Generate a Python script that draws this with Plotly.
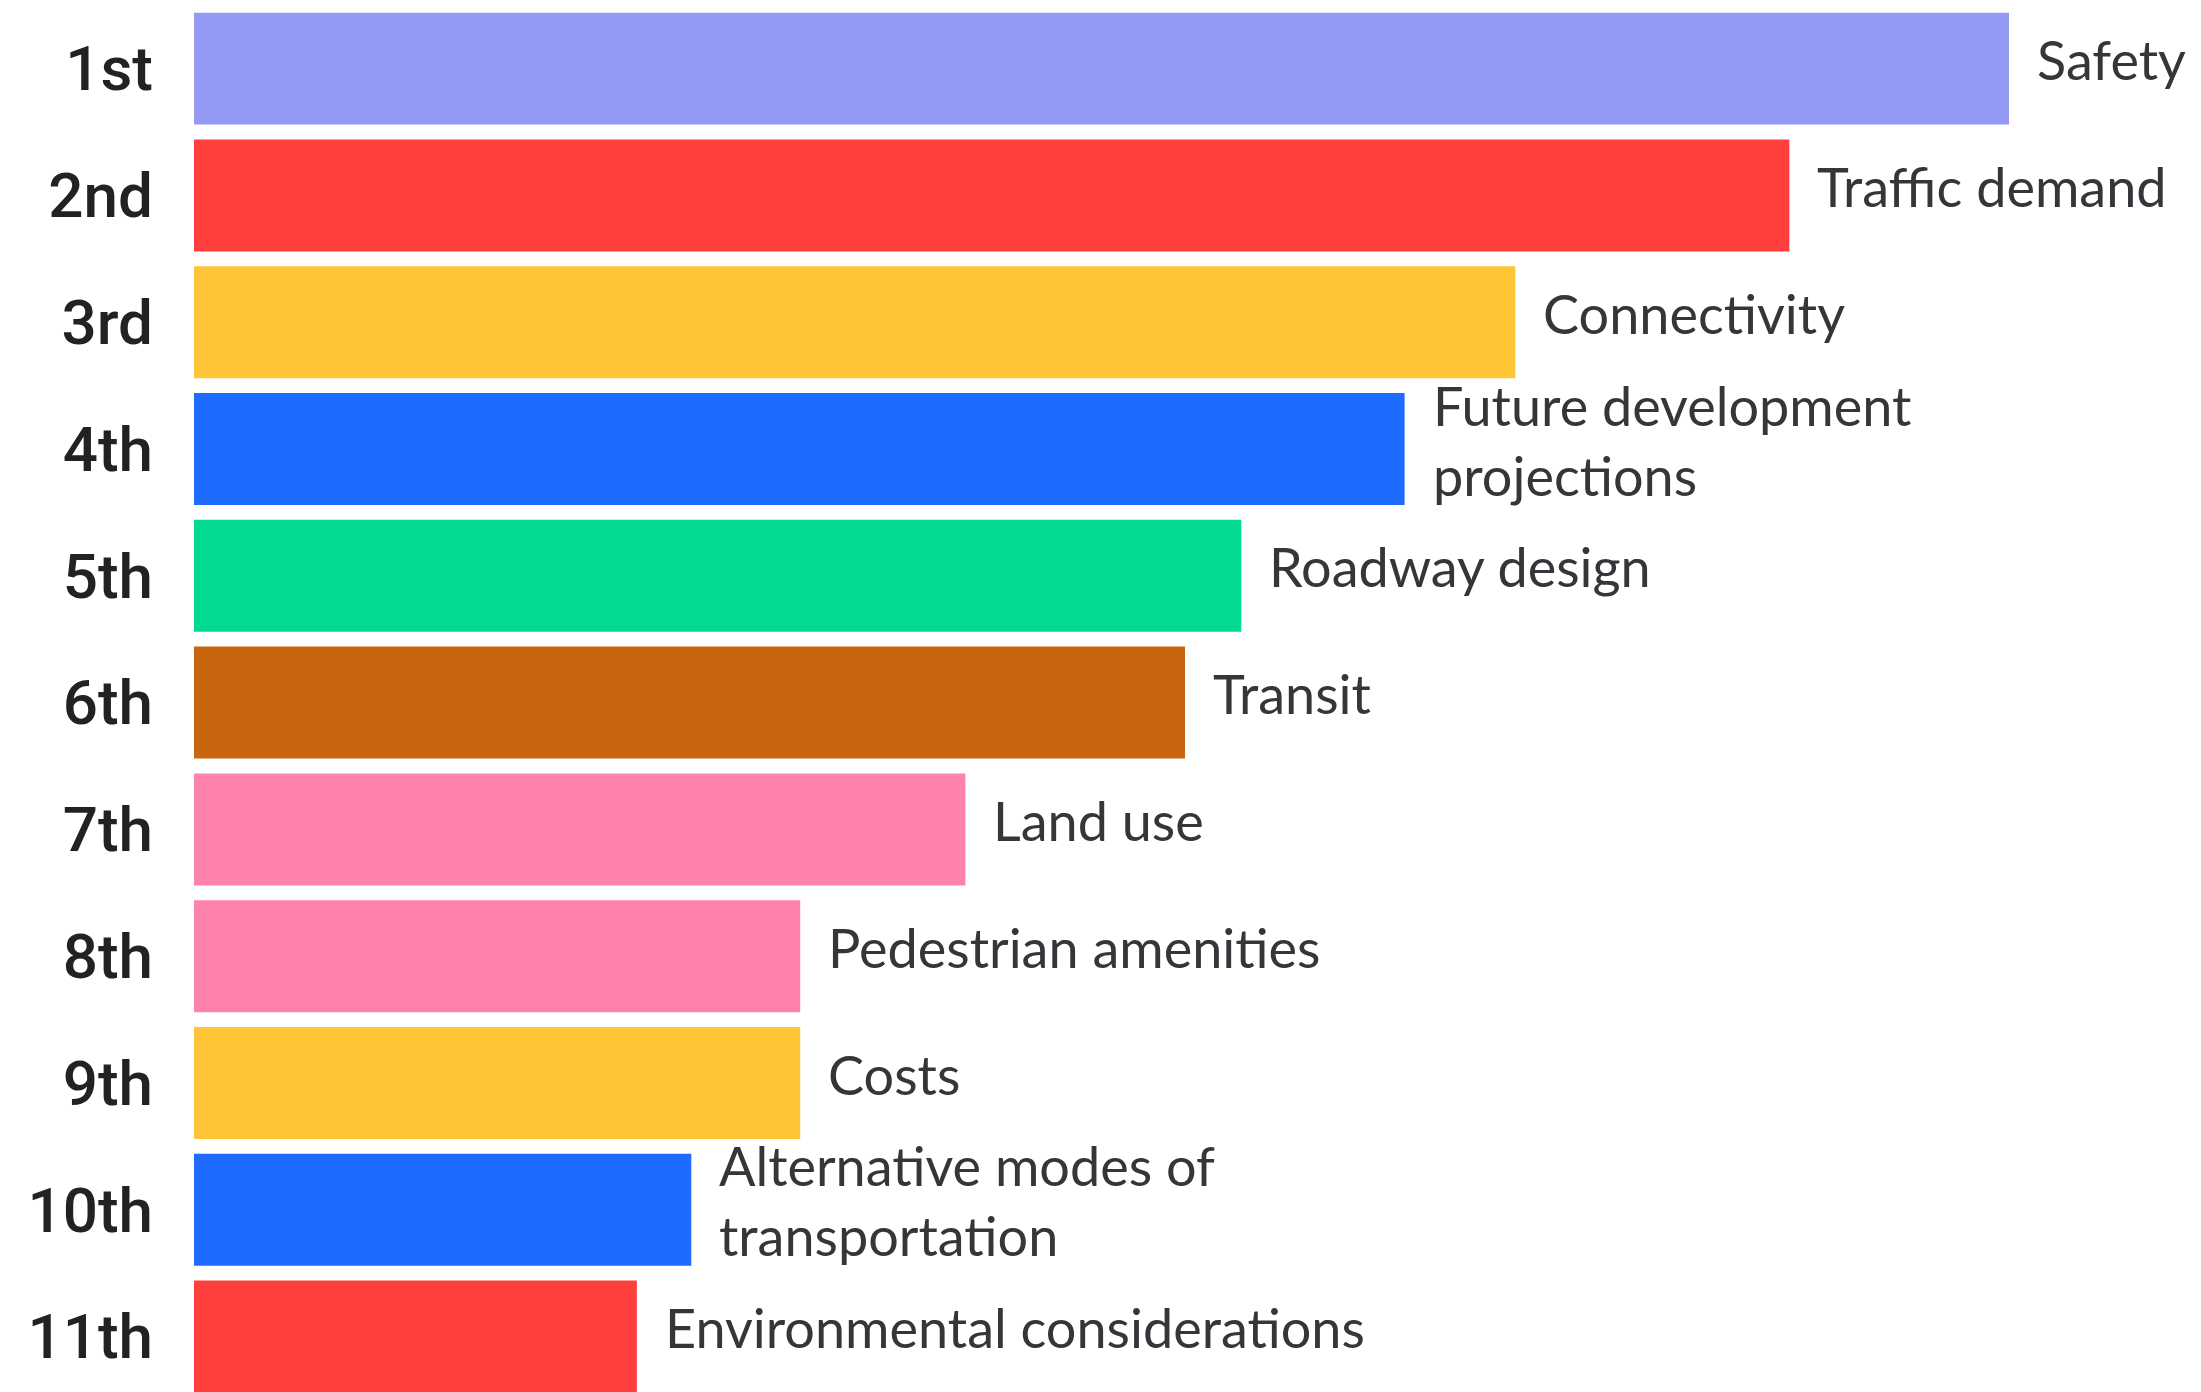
import plotly.graph_objects as go

# ranking of factors (bar length, longest = 100)
ranks = ['1st', '2nd', '3rd', '4th', '5th', '6th', '7th', '8th', '9th', '10th', '11th']
factors = ['Safety', 'Traffic demand', 'Connectivity', 'Future development<br>projections',
           'Roadway design', 'Transit', 'Land use', 'Pedestrian amenities', 'Costs',
           'Alternative modes of<br>transportation', 'Environmental considerations']
scores = [100, 87.9, 72.8, 66.7, 57.7, 54.6, 42.5, 33.4, 33.4, 27.4, 24.4]
colors = ['#949AF3', '#FF3F3D', '#FFC537', '#1D6BFF', '#03D98F', '#C8650E',
          '#FF82AC', '#FF82AC', '#FFC537', '#1D6BFF', '#FF3F3D']

fig = go.Figure(go.Bar(
    x=scores,
    y=ranks,
    orientation='h',
    marker=dict(color=colors, line=dict(width=0)),
    hoverinfo='skip',
))

for r, f, s in zip(ranks, factors, scores):
    fig.add_annotation(x=s, y=r, text=f, xref='x', yref='y',
                       xanchor='left', yanchor='middle', align='left',
                       xshift=26, yshift=9, showarrow=False,
                       font=dict(family='Lato', size=54, color='#35363A'))

fig.update_layout(
    width=2201, height=1392,
    margin=dict(l=186, r=0, t=0, b=0),
    paper_bgcolor='white', plot_bgcolor='white',
    bargap=0.117,
    showlegend=False,
    xaxis=dict(range=[0, 111.02], visible=False, fixedrange=True),
    yaxis=dict(categoryorder='array', categoryarray=ranks,
               range=[10.50, -0.478], showgrid=False, zeroline=False,
               showline=False, ticks='', ticklabelstandoff=40,
               tickfont=dict(family='Roboto', size=62, weight=500, color='#222222')),
)

fig.write_html('out.html')
